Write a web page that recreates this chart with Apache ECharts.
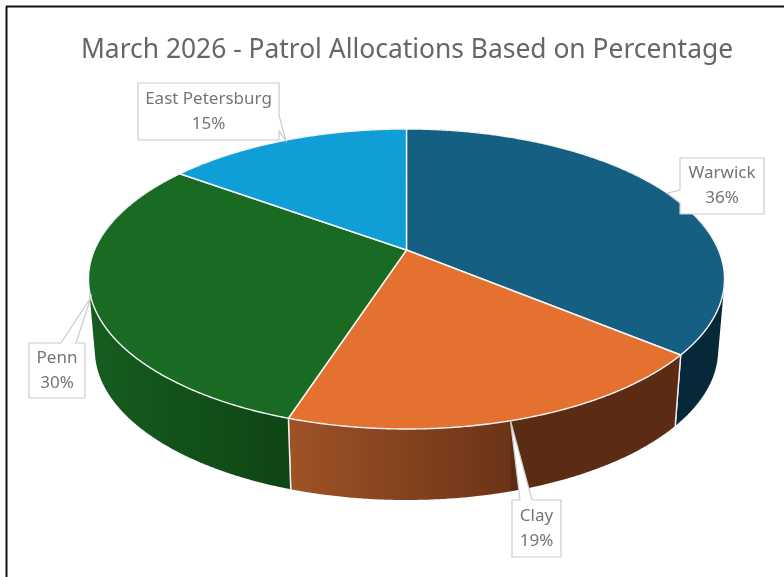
<!DOCTYPE html>
<html><head><meta charset="utf-8">
<style>html,body{margin:0;padding:0;background:#fff}#c{width:784px;height:577px}</style>
<script src="https://cdn.jsdelivr.net/npm/echarts@6/dist/echarts.min.js"></script>
</head><body><div id="c"></div>
<script>
const chartTitle = 'March 2026 - Patrol Allocations Based on Percentage';
const categories = ['Warwick', 'Clay', 'Penn', 'East Petersburg'];
const values = [36, 19, 30, 15];

const topColors = ['#156082', '#E57130', '#196B24', '#0F9ED5'];
const sideStyles = [
  {x0: 674, x1: 724, stops: [[0, '#062838'], [1, '#062838']]},
  {x0: 292, x1: 674, stops: [[0, '#9E5226'], [0.57, '#6C3317'], [0.575, '#5C2B13'], [1, '#5C2B13']]},
  {x0: 91, x1: 292, stops: [[0, '#165C1F'], [1, '#0E4515']]},
  {x0: 180, x1: 406, stops: [[0, '#0A6F96'], [1, '#0A6F96']]}
];
// projective view of the disc
const view = {cx: 406.5, cy: 250, a: 312, b: 144.4, k: -0.1933, depth: 71, shrink: 0.98};
// callout boxes: [x, y, w, h], side the pointer leaves from, pointer base along it, pointer nudge
const callouts = [
  {box: [680, 158, 84, 56], side: 'left', base: [190, 203], nudge: 0},
  {box: [512, 500, 49, 57], side: 'top', base: [520, 532], nudge: -3},
  {box: [29, 343, 56, 55], side: 'top', base: [61, 76], nudge: 0},
  {box: [138, 83, 141, 57], side: 'right', base: [115, 131], nudge: 0}
];

const total = values.reduce((s, v) => s + v, 0);
const starts = values.map((_, i) => values.slice(0, i).reduce((s, v) => s + v, 0) / total * Math.PI * 2);
const ends = values.map((v, i) => starts[i] + v / total * Math.PI * 2);

function project(t) {
  const x = Math.sin(t), y = -Math.cos(t), w = 1 + view.k * y;
  return [view.cx + view.a * x / w, view.cy + view.b * y / w];
}
function lower(p) { return [view.cx + view.shrink * (p[0] - view.cx), p[1] + view.depth]; }
function arc(t0, t1) {
  const n = Math.max(2, Math.ceil((t1 - t0) / 0.006)), pts = [];
  for (let i = 0; i <= n; i++) pts.push(project(t0 + (t1 - t0) * i / n));
  return pts;
}
const seriesData = categories.map((c, i) => ({name: c, value: values[i]}));

function sweepPath(top) {
  // union of the small quads between the upper and the lower rim, all wound the same way
  let d = '';
  for (let i = 0; i < top.length - 1; i++) {
    let q = [top[i], top[i + 1], lower(top[i + 1]), lower(top[i])];
    let area = 0;
    q.forEach((p, j) => { const n = q[(j + 1) % 4]; area += p[0] * n[1] - n[0] * p[1]; });
    if (area < 0) q = q.reverse();
    d += 'M' + q.map(p => p[0].toFixed(2) + ' ' + p[1].toFixed(2)).join('L') + 'Z';
  }
  return d;
}
function renderSide(params) {
  const i = params.dataIndex, top = arc(starts[i], ends[i]);
  const s = sideStyles[i];
  const grad = new echarts.graphic.LinearGradient(s.x0, 0, s.x1, 0,
    s.stops.map(d => ({offset: d[0], color: d[1]})), true);
  const a = top[0], b = top[top.length - 1], la = lower(a), lb = lower(b);
  const seam = {stroke: '#F2F2F2', lineWidth: 1.4};
  return {type: 'group', children: [
    {type: 'path', shape: {pathData: sweepPath(top)}, style: {fill: grad}},
    {type: 'line', shape: {x1: a[0], y1: a[1], x2: la[0], y2: la[1]}, style: seam},
    {type: 'line', shape: {x1: b[0], y1: b[1], x2: lb[0], y2: lb[1]}, style: seam}
  ]};
}
function renderTop(params) {
  const i = params.dataIndex;
  const pts = [[view.cx, view.cy]].concat(arc(starts[i], ends[i]));
  return {type: 'polygon', shape: {points: pts},
    style: {fill: topColors[i], stroke: '#F4F4F4', lineWidth: 1.4, lineJoin: 'round'}};
}
function renderCallout(params) {
  const i = params.dataIndex, c = callouts[i], b = c.box;
  const rim = project((starts[i] + ends[i]) / 2), tip = [rim[0] + c.nudge, rim[1]];
  const x0 = b[0], y0 = b[1], x1 = b[0] + b[2], y1 = b[1] + b[3];
  const pts = [[x0, y0]];
  if (c.side === 'top') pts.push([c.base[0], y0], tip, [c.base[1], y0]);
  pts.push([x1, y0]);
  if (c.side === 'right') pts.push([x1, c.base[0]], tip, [x1, c.base[1]]);
  pts.push([x1, y1], [x0, y1]);
  if (c.side === 'left') pts.push([x0, c.base[1]], tip, [x0, c.base[0]]);
  return {type: 'group', children: [
    {type: 'polygon', shape: {points: pts}, style: {fill: '#fff', stroke: '#CBCBCB', lineWidth: 1.2}},
    {type: 'text', style: {
      x: (x0 + x1) / 2, y: (y0 + y1) / 2,
      text: categories[i] + '\n' + values[i] + '%',
      fill: '#757575', font: '17px "Noto Sans"', lineHeight: 25,
      align: 'center', verticalAlign: 'middle'}}
  ]};
}

const chart = echarts.init(document.getElementById('c'), null, {renderer: 'canvas'});
chart.setOption({
  animation: false,
  backgroundColor: '#fff',
  title: {text: chartTitle, left: 402, top: 32, textAlign: 'center',
    textStyle: {fontFamily: '"Noto Sans"', fontSize: 26.4, fontWeight: 'normal', color: '#666666'}},
  graphic: [
    {type: 'line', shape: {x1: 6.5, y1: 6.5, x2: 6.5, y2: 577}, style: {stroke: '#111', lineWidth: 2}},
    {type: 'line', shape: {x1: 6, y1: 6.5, x2: 784, y2: 6.5}, style: {stroke: '#111', lineWidth: 2}}
  ],
  series: [
    {type: 'custom', coordinateSystem: 'none', z: 1, data: seriesData, renderItem: renderSide, silent: true},
    {type: 'custom', coordinateSystem: 'none', z: 2, data: seriesData, renderItem: renderTop, silent: true},
    {type: 'custom', coordinateSystem: 'none', z: 3, data: seriesData, renderItem: renderCallout, silent: true}
  ]
});
</script></body></html>
